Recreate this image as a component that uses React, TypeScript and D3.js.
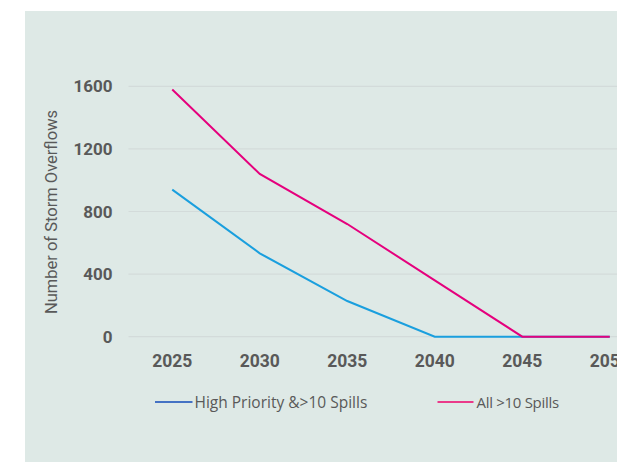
import React from "react";
import * as d3 from "d3";

// Storm overflow reduction trajectory
const years = ["2025", "2030", "2035", "2040", "2045", "2050"];
const highPriority = [940, 533, 228, 0, 0, 0];
const allOverTen = [1580, 1040, 720, 360, 0, 0];
const yTicks = [0, 400, 800, 1200, 1600];
const seriesNames = ["High Priority &>10 Spills", "All >10 Spills"];

const W = 617;
const H = 462;

const x = d3.scaleBand<string>().domain(years).range([128.5, 128.5 + 87.5 * years.length]);
const y = d3.scaleLinear().domain([0, 1600]).range([336.7, 86.3]);

const cx = (d: string) => (x(d) ?? 0) + x.bandwidth() / 2;

const line = d3
  .line<number>()
  .x((_, i) => cx(years[i]))
  .y((v) => y(v));

const tickFont = "Roboto, 'DejaVu Sans', sans-serif";
const textFill = "#595959";

export default function App() {
  return (
    <svg
      width={W}
      height={H}
      style={{ position: "absolute", left: 0, top: 0, display: "block" }}
    >
      <rect x={0} y={0} width={W} height={H} fill="#ffffff" />
      <rect x={25} y={11} width={W - 25} height={H - 11} fill="#dee9e6" />

      {yTicks.map((t) => (
        <g key={t}>
          <line x1={128.5} x2={W} y1={y(t)} y2={y(t)} stroke="#d3dbda" strokeWidth={1.2} />
          <text
            x={112.5}
            y={y(t)}
            textAnchor="end"
            dominantBaseline="central"
            fontFamily={tickFont}
            fontWeight={700}
            fontSize={17}
            fill={textFill}
          >
            {t}
          </text>
        </g>
      ))}

      {years.map((yr) => (
        <text
          key={yr}
          x={cx(yr)}
          y={361}
          textAnchor="middle"
          dominantBaseline="central"
          fontFamily={tickFont}
          fontWeight={700}
          fontSize={17.5}
          fill={textFill}
        >
          {yr}
        </text>
      ))}

      <text
        transform={`translate(51, 212) rotate(-90)`}
        textAnchor="middle"
        dominantBaseline="central"
        fontFamily={tickFont}
        fontSize={16.5}
        fill={textFill}
      >
        Number of Storm Overflows
      </text>

      <path d={line(highPriority) ?? ""} fill="none" stroke="#1a9fde" strokeWidth={2} />
      <path d={line(allOverTen) ?? ""} fill="none" stroke="#e5007d" strokeWidth={2} />

      <g>
        <line x1={155} x2={192.5} y1={402} y2={402} stroke="#4472c4" strokeWidth={2} />
        <text
          x={194.5}
          y={402}
          dominantBaseline="central"
          fontFamily="'Open Sans', sans-serif"
          fontSize={15.5}
          fill={textFill}
        >
          {seriesNames[0]}
        </text>
        <line x1={437.5} x2={473.5} y1={402} y2={402} stroke="#ea3a8a" strokeWidth={2} />
        <text
          x={476.5}
          y={402}
          dominantBaseline="central"
          fontFamily="'Open Sans', sans-serif"
          fontSize={15}
          letterSpacing={-0.3}
          fill={textFill}
        >
          {seriesNames[1]}
        </text>
      </g>
    </svg>
  );
}
